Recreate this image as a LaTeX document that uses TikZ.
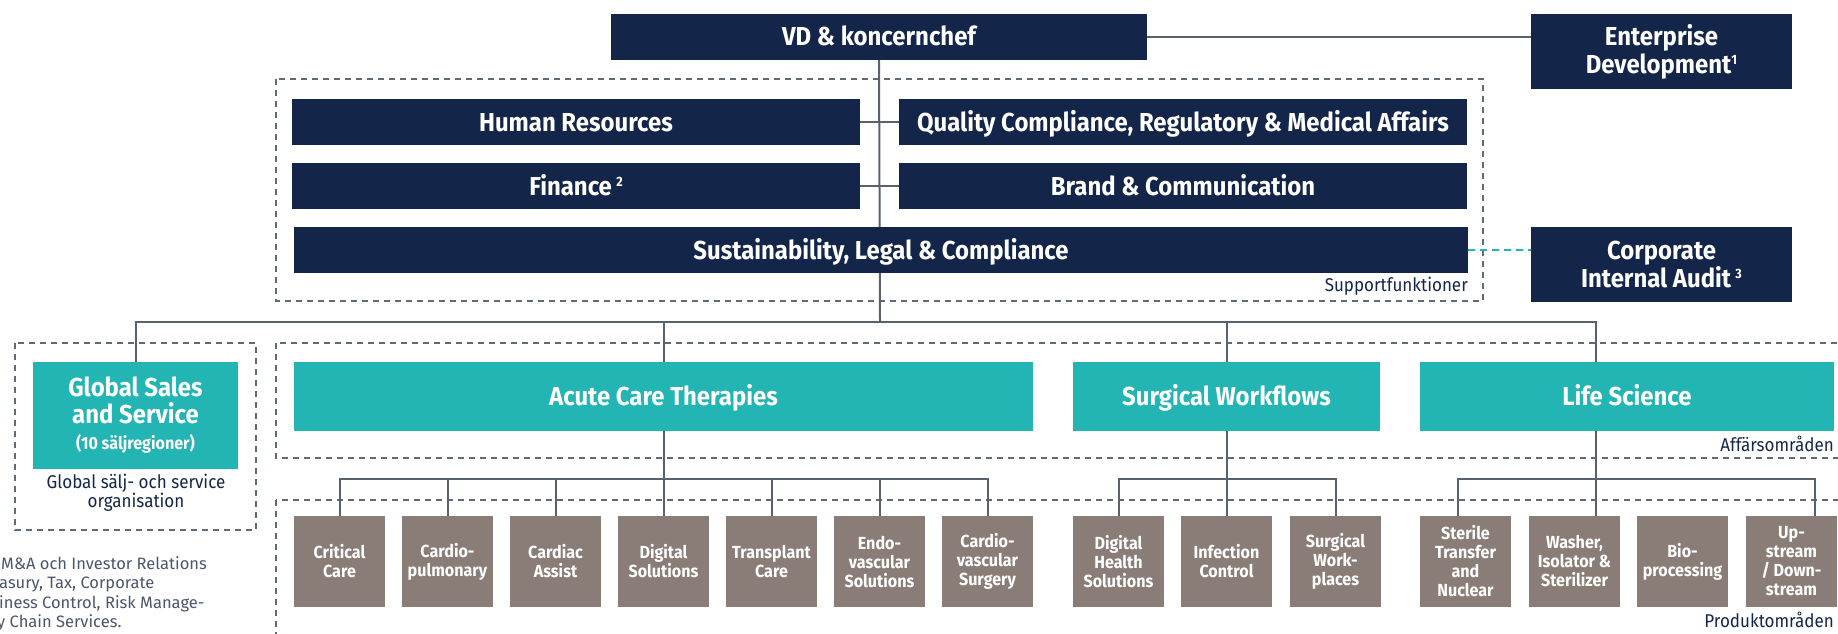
\documentclass[tikz,border=0pt]{standalone}
\usepackage{fontspec}
\setmainfont{Fira Sans}[FakeStretch=0.92]
\newfontfamily\notefont{Fira Sans}
\newcommand\fnsup[1]{\raisebox{8.6pt}{\fontsize{13.5}{13.5}\selectfont #1}}
\definecolor{navy}{HTML}{13264A}
\definecolor{tealc}{HTML}{22B5B4}
\definecolor{taupe}{HTML}{8A7C76}
\definecolor{linec}{HTML}{56636F}
\definecolor{dashc}{HTML}{5E6A76}
\definecolor{notec}{HTML}{4A566A}
\tikzset{
  box/.style={anchor=north west, inner sep=0pt, outer sep=0pt, align=center, text=white},
  navybox/.style={box, fill=navy, font=\fontsize{26}{28}\selectfont\bfseries},
  navyone/.style={navybox, minimum height=46, text height=18, text depth=0},
  tealbox/.style={box, fill=tealc, font=\fontsize{26}{27}\selectfont\bfseries},
  tealone/.style={tealbox, minimum height=69, text height=18, text depth=0},
  prodbox/.style={box, fill=taupe, minimum width=91, minimum height=91, font=\fontsize{17.5}{19}\selectfont\bfseries},
  conn/.style={draw=linec, line width=2pt},
  grp/.style={draw=dashc, line width=1.4pt, dash pattern=on 6pt off 5pt},
  tdash/.style={draw=tealc, line width=1.4pt, dash pattern=on 7pt off 5pt},
  lbl/.style={inner sep=0pt, text=navy, font=\fontsize{18.5}{19}\selectfont},
  note/.style={inner sep=0pt, anchor=base west, text=notec, font=\notefont\fontsize{16.5}{19}\selectfont},
}
\begin{document}
\begin{tikzpicture}[x=1pt, y=-1pt]
\useasboundingbox (0,0) rectangle (1838,634);
\clip (0,0) rectangle (1838,634);

% dashed groups
\draw[grp] (276,79) rectangle (1483,301);
\draw[grp] (15,343) rectangle (256,530);
\draw[grp] (276,343) rectangle (1860,458);
\draw[grp] (276,500) rectangle (1860,660);

% top level
\node[navyone, minimum width=536] (vd) at (611,14) {VD \& koncernchef};
\node[navybox, minimum width=261, minimum height=75] (ed) at (1531,14) {Enterprise\\Development\fnsup{1}};
\node[navyone, minimum width=568] (hr) at (292,99) {Human Resources};
\node[navyone, minimum width=568] (qc) at (899,99) {Quality Compliance, Regulatory \& Medical Affairs};
\node[navyone, minimum width=568] (fin) at (292,163) {Finance\,\fnsup{2}};
\node[navyone, minimum width=568] (brand) at (899,163) {Brand \& Communication};
\coordinate (hub) at (880,322);
% connectors behind boxes
\draw[conn] (vd.south) -- (hub);
\draw[conn] (hr.east) -- (qc.west);
\draw[conn] (fin.east) -- (brand.west);
\draw[conn] (vd.east) -- (vd.east -| ed.west);

\node[navyone, minimum width=1174] (sust) at (294,227) {Sustainability, Legal \& Compliance};
\node[navybox, minimum width=261, minimum height=75] (cia) at (1531,227) {Corporate\\Internal Audit\,\fnsup{3}};
\draw[tdash] (sust.east) -- (sust.east -| cia.west);
\node[lbl, anchor=base east] (sf) at (1468,291) {Supportfunktioner};

% business areas
\node[tealbox, minimum width=205, minimum height=107] (gs) at (33,362) {Global Sales\\and Service\\[-1pt]{\fontsize{17.5}{19}\selectfont(10 säljregioner)}};
\node[lbl, align=center, anchor=north] (gso) at (136,474) {Global sälj- och service\\organisation};
\node[tealone, minimum width=739] (act) at (294,362) {Acute Care Therapies};
\node[tealone, minimum width=307] (sw) at (1073,362) {Surgical Workflows};
\node[tealone, minimum width=414] (ls) at (1420,362) {Life Science};
\node[lbl, anchor=base east] (ao) at (1834,451) {Affärsområden};

\draw[conn] (gs.north) |- (hub) -| ([xshift=-31pt]ls.north);
\draw[conn] (act.north) -- (act.north |- hub);
\draw[conn] (sw.north) -- (sw.north |- hub);

% product areas
\node[prodbox] (cc) at (294,516) {Critical\\Care};
\node[prodbox] (cp) at (402,516) {Cardio-\\pulmonary};
\node[prodbox] (ca) at (510,516) {Cardiac\\Assist};
\node[prodbox] (ds) at (618,516) {Digital\\Solutions};
\node[prodbox] (tc) at (726,516) {Transplant\\Care};
\node[prodbox] (evs) at (834,516) {Endo-\\vascular\\Solutions};
\node[prodbox] (cvs) at (942,516) {Cardio-\\vascular\\Surgery};
\node[prodbox] (dhs) at (1073,516) {Digital\\Health\\Solutions};
\node[prodbox] (ic) at (1181,516) {Infection\\Control};
\node[prodbox] (swp) at (1290,516) {Surgical\\Work-\\places};
\node[prodbox] (stn) at (1420,516) {Sterile\\Transfer\\and\\Nuclear};
\node[prodbox] (wis) at (1529,516) {Washer,\\Isolator \&\\Sterilizer};
\node[prodbox] (bio) at (1637,516) {Bio-\\processing};
\node[prodbox] (uds) at (1746,516) {Up-\\stream\\/ Down-\\stream};
\node[lbl, anchor=base east] (po) at (1834,627) {Produktområden};

\coordinate (barA) at (663,479);
\draw[conn] (act.south) -- (ds.north);
\draw[conn] (cc.north) |- (barA) -| (cvs.north);
\foreach \n in {cp,ca,tc,evs} \draw[conn] (\n.north) -- (\n.north |- barA);

\coordinate (barS) at (1226,479);
\draw[conn] (sw.south) -- (ic.north);
\draw[conn] (dhs.north) |- (barS) -| (swp.north);

\coordinate (barL) at (1596,479);
\draw[conn] ([xshift=-31pt]ls.south) -- ([xshift=21.5pt]wis.north);
\draw[conn] ([xshift=-7.5pt]stn.north) |- (barL) -| ([xshift=23.5pt]uds.north);

% footnotes
\node[note] (n1) at (1,569) {M\&A och Investor Relations};
\node[note] (n2) at (-1,588.5) {asury, Tax, Corporate};
\node[note] (n3) at (-1,608) {iness Control, Risk Manage-};
\node[note] (n4) at (-3,627) {y Chain Services.};
\end{tikzpicture}
\end{document}
